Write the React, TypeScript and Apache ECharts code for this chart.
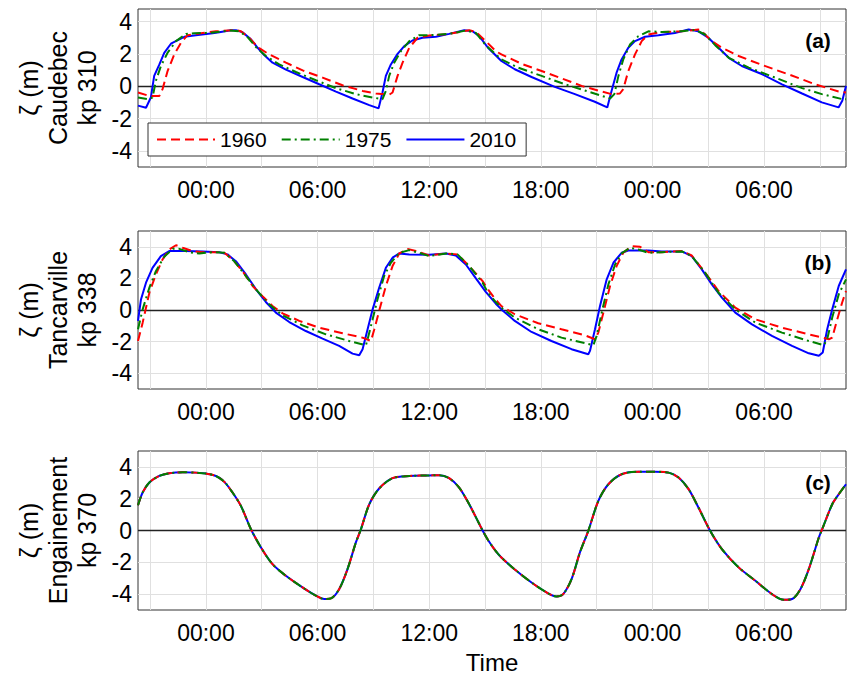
import React, { useEffect, useRef } from 'react';
import * as echarts from 'echarts';

// Time axis in hours relative to the first midnight shown.
const HOUR_MIN = -3.65;
const HOUR_MAX = 34.4;
const tickHours = [-3, 0, 3, 6, 9, 12, 15, 18, 21, 24, 27, 30, 33];
const labelHours = [0, 6, 12, 18, 24, 30];
const levelTicks = [-4, -2, 0, 2, 4];

const years = ['1960', '1975', '2010'];

// (a) Caudebec, kp 310 — water level ζ (m) as [hour, level]
const caudebec1960 = [
  [-3.65, -0.39], [-3.05, -0.6], [-2.5, -0.6], [-2.33, -0.18], [-2.06, 0.94], [-1.7, 1.97], [-1.34, 2.69],
  [-0.99, 3.16], [-0.18, 3.3], [0.54, 3.4], [1.61, 3.47], [1.88, 3.4], [2.33, 3.0], [2.78, 2.42], [3.4, 1.97],
  [4.3, 1.46], [5.2, 0.98], [6.27, 0.53], [7.34, 0.06], [8.42, -0.29], [9.13, -0.45], [9.85, -0.53],
  [10.03, -0.39], [10.3, 0.64], [10.57, 1.46], [10.93, 2.38], [11.37, 3.0], [12.0, 3.14], [13.07, 3.24],
  [14.15, 3.47], [14.51, 3.36], [15.04, 2.79], [15.58, 2.17], [15.88, 1.97], [16.96, 1.39], [18.04, 0.94],
  [19.11, 0.49], [20.19, 0.02], [21.27, -0.33], [21.8, -0.49], [22.25, -0.45], [22.43, -0.18], [22.7, 0.94],
  [23.06, 1.97], [23.42, 2.79], [23.78, 3.2], [24.5, 3.36], [25.57, 3.4], [26.47, 3.51], [26.74, 3.3],
  [27.19, 2.79], [27.73, 2.38], [28.63, 1.87], [29.9, 1.31], [31.3, 0.74], [32.74, 0.12], [34.0, -0.33],
  [34.4, -0.39],
];
const caudebec1975 = [
  [-3.65, -0.7], [-3.13, -0.8], [-2.87, -0.7], [-2.69, 0.33], [-2.42, 1.25], [-2.06, 2.07], [-1.61, 2.79],
  [-1.07, 3.24], [-0.63, 3.28], [0.18, 3.3], [1.25, 3.45], [1.79, 3.4], [2.24, 3.04], [2.69, 2.42],
  [3.22, 1.87], [3.94, 1.35], [4.84, 0.88], [5.91, 0.37], [6.99, -0.12], [8.06, -0.49], [8.96, -0.7],
  [9.49, -0.8], [9.67, -0.29], [9.85, 0.64], [10.12, 1.46], [10.48, 2.17], [10.93, 2.79], [11.46, 3.16],
  [12.0, 3.16], [13.07, 3.24], [13.97, 3.45], [14.51, 3.3], [15.04, 2.54], [15.58, 1.97], [15.88, 1.66],
  [16.78, 1.15], [18.04, 0.64], [19.29, 0.12], [20.55, -0.33], [21.72, -0.76], [21.95, -0.49], [22.17, 0.64],
  [22.43, 1.66], [22.79, 2.58], [23.24, 3.1], [23.78, 3.4], [24.5, 3.36], [25.57, 3.4], [26.29, 3.49],
  [26.83, 3.2], [27.37, 2.54], [28.1, 1.76], [29.17, 1.15], [30.6, 0.53], [32.04, -0.12], [33.1, -0.49],
  [34.2, -0.8], [34.4, -0.8],
];
const caudebec2010 = [
  [-3.65, -1.2], [-3.22, -1.33], [-2.96, -0.7], [-2.78, 0.64], [-2.5, 1.35], [-2.24, 2.07], [-1.88, 2.63],
  [-1.43, 2.9], [-1.16, 3.06], [-0.54, 3.16], [0.36, 3.28], [0.72, 3.34], [1.34, 3.47], [1.61, 3.47],
  [1.97, 3.34], [2.42, 2.9], [2.78, 2.38], [3.13, 1.93], [3.58, 1.46], [4.3, 1.03], [5.2, 0.57], [6.09, 0.12],
  [6.99, -0.33], [7.88, -0.76], [8.78, -1.17], [9.28, -1.37], [9.49, -0.39], [9.67, 0.64], [9.94, 1.35],
  [10.3, 2.0], [10.66, 2.48], [11.1, 2.83], [11.64, 3.0], [12.36, 3.06], [13.07, 3.24], [13.88, 3.47],
  [14.33, 3.4], [14.69, 3.1], [15.16, 2.38], [15.58, 1.9], [15.88, 1.56], [16.6, 1.05], [17.5, 0.57],
  [18.75, -0.04], [19.83, -0.49], [20.9, -0.96], [21.57, -1.31], [21.8, -0.29], [22.07, 0.84], [22.34, 1.66],
  [22.7, 2.38], [23.06, 2.79], [23.6, 3.06], [24.32, 3.16], [25.2, 3.3], [25.94, 3.51], [26.47, 3.4],
  [27.0, 3.0], [27.55, 2.38], [28.1, 1.76], [28.8, 1.25], [29.9, 0.74], [30.96, 0.12], [32.04, -0.45],
  [33.1, -1.0], [34.0, -1.31], [34.2, -0.9], [34.4, 0.02],
];

// (b) Tancarville, kp 338
const tancarville1960 = [
  [-3.65, -1.96], [-3.4, -0.8], [-3.04, 1.09], [-2.69, 2.25], [-2.33, 3.2], [-1.97, 3.83], [-1.61, 4.1],
  [-1.25, 3.94], [-0.72, 3.73], [-0.18, 3.66], [0.54, 3.66], [0.99, 3.62], [1.43, 3.2], [1.97, 2.46],
  [2.51, 1.52], [3.04, 0.88], [3.58, 0.25], [4.12, -0.21], [5.02, -0.69], [6.09, -1.12], [7.34, -1.47],
  [8.42, -1.75], [8.87, -1.96], [9.05, -1.22], [9.31, -0.06], [9.67, 1.52], [10.03, 2.78], [10.39, 3.58],
  [10.84, 3.87], [11.28, 3.73], [12.0, 3.45], [12.9, 3.58], [13.52, 3.52], [14.15, 2.78], [14.87, 1.83],
  [15.16, 1.3], [15.58, 0.65], [15.88, 0.25], [16.6, -0.27], [17.86, -0.84], [19.11, -1.22], [20.37, -1.6],
  [20.91, -1.85], [21.09, -1.43], [21.36, -0.17], [21.72, 1.52], [22.07, 2.78], [22.43, 3.62], [22.88, 4.04],
  [23.33, 4.0], [23.78, 3.66], [24.5, 3.66], [25.58, 3.73], [26.11, 3.45], [26.83, 2.36], [27.55, 1.2],
  [28.45, 0.15], [29.53, -0.59], [30.96, -1.12], [32.4, -1.54], [33.48, -1.85], [33.66, -1.75],
  [33.93, -0.59], [34.19, 0.46], [34.4, 1.2],
];
const tancarville1975 = [
  [-3.65, -1.22], [-3.4, 0.04], [-3.04, 1.41], [-2.69, 2.46], [-2.24, 3.37], [-1.79, 3.87], [-1.43, 3.87],
  [-0.9, 3.66], [-0.36, 3.58], [0.36, 3.66], [0.99, 3.62], [1.52, 3.09], [2.15, 2.15], [2.69, 1.31],
  [3.4, 0.36], [4.12, -0.34], [5.19, -0.97], [6.45, -1.54], [7.7, -1.96], [8.6, -2.23], [8.69, -1.85],
  [8.96, -0.59], [9.22, 0.67], [9.58, 2.15], [9.94, 2.99], [10.39, 3.62], [10.93, 3.79], [11.46, 3.62],
  [12.0, 3.41], [12.9, 3.58], [13.52, 3.52], [14.15, 2.78], [14.87, 1.73], [15.16, 1.09], [15.58, 0.5],
  [15.88, 0.15], [16.6, -0.48], [17.86, -1.22], [19.11, -1.75], [20.37, -2.1], [20.82, -2.23], [21.0, -1.64],
  [21.27, -0.17], [21.63, 1.62], [21.99, 2.88], [22.34, 3.58], [22.79, 3.94], [23.24, 3.83], [23.78, 3.62],
  [24.5, 3.66], [25.58, 3.71], [26.11, 3.41], [26.83, 2.36], [27.55, 1.09], [28.45, 0.04], [29.53, -0.8],
  [30.96, -1.43], [32.4, -1.96], [33.21, -2.23], [33.39, -1.85], [33.66, -0.48], [34.01, 0.99], [34.4, 1.94],
];
const tancarville2010 = [
  [-3.65, -0.69], [-3.49, 0.67], [-3.22, 1.73], [-2.87, 2.67], [-2.42, 3.41], [-1.97, 3.73], [-1.07, 3.73],
  [-0.18, 3.71], [0.72, 3.66], [1.16, 3.52], [1.61, 3.09], [2.15, 2.25], [2.69, 1.31], [3.22, 0.51],
  [3.76, -0.17], [4.48, -0.76], [5.37, -1.33], [6.27, -1.81], [7.16, -2.27], [7.88, -2.76], [8.24, -2.86],
  [8.42, -2.48], [8.69, -1.22], [8.96, 0.04], [9.31, 1.41], [9.67, 2.67], [10.03, 3.31], [10.39, 3.58],
  [10.93, 3.52], [12.0, 3.49], [12.9, 3.58], [13.43, 3.45], [13.97, 2.88], [14.51, 2.0], [15.04, 1.15],
  [15.58, 0.4], [15.88, 0.04], [16.6, -0.69], [17.5, -1.39], [18.57, -1.96], [19.65, -2.48], [20.55, -2.8],
  [20.64, -2.59], [20.91, -1.22], [21.18, 0.25], [21.54, 1.94], [21.9, 2.99], [22.34, 3.62], [22.7, 3.77],
  [23.78, 3.77], [24.5, 3.71], [25.58, 3.71], [26.11, 3.41], [26.65, 2.57], [27.19, 1.62], [27.73, 0.78],
  [28.45, -0.17], [29.35, -0.91], [30.42, -1.64], [31.5, -2.27], [32.4, -2.74], [32.94, -2.9], [33.15, -2.69],
  [33.39, -1.22], [33.66, 0.04], [34.01, 1.52], [34.4, 2.57],
];

// (c) Engainement, kp 370 — the three years coincide at this station
const engainementLevel = [
  [-3.65, 1.59], [-3.4, 2.39], [-3.04, 3.02], [-2.51, 3.43], [-1.97, 3.6], [-1.25, 3.66], [-0.54, 3.64],
  [0, 3.58], [0.54, 3.43], [0.99, 3.06], [1.43, 2.39], [1.88, 1.55], [2.42, 0.08], [2.96, -1.07],
  [3.58, -2.12], [4.3, -2.85], [5.19, -3.58], [5.91, -4.1], [6.36, -4.31], [6.72, -4.27], [7.16, -3.69],
  [7.61, -2.43], [8.06, -0.75], [8.33, 0.08], [8.78, 1.65], [9.31, 2.64], [10.03, 3.29], [10.93, 3.43],
  [12.0, 3.46], [12.54, 3.48], [13.07, 3.29], [13.61, 2.7], [14.15, 1.65], [14.87, 0], [15.16, -0.6],
  [15.58, -1.3], [15.88, -1.7], [16.6, -2.45], [17.5, -3.27], [18.39, -3.95], [18.84, -4.15], [19.2, -4.0],
  [19.65, -3.06], [20.1, -1.38], [20.55, -0.02], [21.09, 1.86], [21.63, 2.91], [22.34, 3.54], [23.24, 3.69],
  [24.14, 3.69], [24.86, 3.64], [25.4, 3.33], [25.94, 2.6], [26.47, 1.45], [27.1, -0.02], [27.73, -1.17],
  [28.63, -2.32], [29.53, -3.16], [30.42, -4.0], [31.05, -4.36], [31.5, -4.31], [31.95, -3.69], [32.4, -2.43],
  [32.94, -0.44], [33.12, 0.08], [33.66, 1.65], [34.01, 2.28], [34.4, 2.91],
];

const FONT = '"Liberation Sans", Arial, Helvetica, sans-serif';
const AXIS_COLOR = '#333333';
const GRID_COLOR = '#e0e0e0';

const yearStyle: Record<string, { color: string; type: any }> = {
  '1960': { color: '#ff0000', type: [9, 5] },
  '1975': { color: '#008000', type: [9, 4, 2, 4] },
  '2010': { color: '#0000ff', type: 'solid' },
};

const panels = [
  {
    label: 'ζ (m)\nCaudebec\nkp 310', tag: '(a)', top: 9, height: 158, yMax: 4.78, smooth: false,
    series: { '1960': caudebec1960, '1975': caudebec1975, '2010': caudebec2010 } as Record<string, number[][]>,
  },
  {
    label: 'ζ (m)\nTancarville\nkp 338', tag: '(b)', top: 231, height: 158, yMax: 5, smooth: false,
    series: { '1960': tancarville1960, '1975': tancarville1975, '2010': tancarville2010 } as Record<string, number[][]>,
  },
  {
    label: 'ζ (m)\nEngainement\nkp 370', tag: '(c)', top: 451, height: 159, yMax: 5, smooth: true,
    series: { '1960': engainementLevel, '1975': engainementLevel, '2010': engainementLevel } as Record<string, number[][]>,
  },
];

const GRID_LEFT = 138;
const GRID_WIDTH = 708;

function clockLabel(v: number) {
  const h = ((Math.round(v) % 24) + 24) % 24;
  return (h < 10 ? '0' : '') + h + ':00';
}

function buildOption() {
  const grid: any[] = [];
  const xAxis: any[] = [];
  const yAxis: any[] = [];
  const series: any[] = [];
  const graphic: any[] = [];

  panels.forEach((p, i) => {
    grid.push({
      left: GRID_LEFT, top: p.top, width: GRID_WIDTH, height: p.height,
      show: true, borderColor: AXIS_COLOR, borderWidth: 1, backgroundColor: '#fff',
    });
    const tickCommon = { show: true, inside: true, length: 6, lineStyle: { color: AXIS_COLOR, width: 1 } };
    const hiddenLine = { show: false, onZero: false };
    xAxis.push({
      type: 'value', gridIndex: i, min: HOUR_MIN, max: HOUR_MAX, position: 'bottom',
      axisLine: hiddenLine,
      axisTick: { ...tickCommon, customValues: tickHours },
      axisLabel: {
        show: true, customValues: labelHours, formatter: clockLabel,
        fontSize: 23, fontFamily: FONT, color: '#000', margin: 11,
      },
      splitLine: { show: false },
    });
    xAxis.push({
      type: 'value', gridIndex: i, min: HOUR_MIN, max: HOUR_MAX, position: 'top',
      axisLine: hiddenLine,
      axisTick: { ...tickCommon, customValues: tickHours },
      axisLabel: { show: false },
      splitLine: { show: false },
    });
    yAxis.push({
      type: 'value', gridIndex: i, min: -5, max: p.yMax, position: 'left',
      axisLine: hiddenLine,
      axisTick: { ...tickCommon, customValues: levelTicks },
      axisLabel: {
        show: true, customValues: levelTicks, fontSize: 23, fontFamily: FONT, color: '#000', margin: 6,
        formatter: (v: number) => String(v),
      },
      splitLine: { show: false },
    });
    yAxis.push({
      type: 'value', gridIndex: i, min: -5, max: p.yMax, position: 'right',
      axisLine: hiddenLine,
      axisTick: { ...tickCommon, customValues: levelTicks },
      axisLabel: { show: false },
      splitLine: { show: false },
    });

    // light grid at every tick, placed through the panel's own axes
    series.push({
      name: 'grid-' + i, type: 'line', xAxisIndex: 2 * i, yAxisIndex: 2 * i,
      data: [], silent: true, z: 1,
      markLine: {
        silent: true, symbol: ['none', 'none'], label: { show: false }, z: 1,
        lineStyle: { color: GRID_COLOR, type: 'solid', width: 1 },
        emphasis: { disabled: true },
        data: [
          ...tickHours.map((h) => ({ xAxis: h })),
          ...levelTicks.filter((v) => v !== 0).map((v) => ({ yAxis: v })),
        ],
      },
    });

    // drawing order: 2010 underneath, then 1960, then 1975 on top
    ['2010', '1960', '1975'].forEach((yr, k) => {
      const s: any = {
        name: yr, type: 'line', xAxisIndex: 2 * i, yAxisIndex: 2 * i,
        data: p.series[yr], symbol: 'none', showSymbol: false, clip: true,
        smooth: p.smooth ? 0.3 : false,
        lineStyle: { color: yearStyle[yr].color, type: yearStyle[yr].type, width: 2 },
        itemStyle: { color: yearStyle[yr].color },
        emphasis: { disabled: true },
        z: 3 + k,
      };
      if (k === 0) {
        s.markLine = {
          silent: true, symbol: ['none', 'none'], label: { show: false }, z: 2,
          lineStyle: { color: '#222', type: 'solid', width: 1.3 },
          emphasis: { disabled: true },
          data: [{ yAxis: 0 }],
        };
      }
      series.push(s);
    });

    graphic.push({
      type: 'text', x: 58, y: p.top + p.height / 2, rotation: Math.PI / 2,
      style: {
        text: p.label, fontSize: 25, fontFamily: FONT, fill: '#000',
        align: 'center', verticalAlign: 'middle', lineHeight: 29,
      },
    });
    graphic.push({
      type: 'text', x: 818, y: p.top + 31,
      style: {
        text: p.tag, fontSize: 21, fontWeight: 'bold', fontFamily: FONT, fill: '#000',
        align: 'center', verticalAlign: 'middle',
      },
      z: 10,
    });
  });

  graphic.push({
    type: 'text', x: GRID_LEFT + GRID_WIDTH / 2, y: 662,
    style: { text: 'Time', fontSize: 24, fontFamily: FONT, fill: '#000', align: 'center', verticalAlign: 'middle' },
  });

  return {
    animation: false,
    backgroundColor: '#fff',
    textStyle: { fontFamily: FONT },
    grid, xAxis, yAxis, series, graphic,
    legend: {
      data: years, left: 148, top: 123, orient: 'horizontal', selectedMode: false,
      itemWidth: 58, itemHeight: 14, itemGap: 14,
      padding: [6, 10, 6, 8],
      itemStyle: { opacity: 0 },
      backgroundColor: '#fff', borderColor: AXIS_COLOR, borderWidth: 1, borderRadius: 0,
      textStyle: { fontSize: 21, fontFamily: FONT, color: '#000' },
      z: 20,
    },
  };
}

export default function App() {
  const ref = useRef<HTMLDivElement>(null);
  useEffect(() => {
    if (!ref.current) return;
    const chart = echarts.init(ref.current, undefined, { renderer: 'svg' });
    chart.setOption(buildOption() as any);
    return () => chart.dispose();
  }, []);
  return (
    <div
      ref={ref}
      style={{ position: 'absolute', left: 0, top: 0, width: 851, height: 678, background: '#fff' }}
    />
  );
}
